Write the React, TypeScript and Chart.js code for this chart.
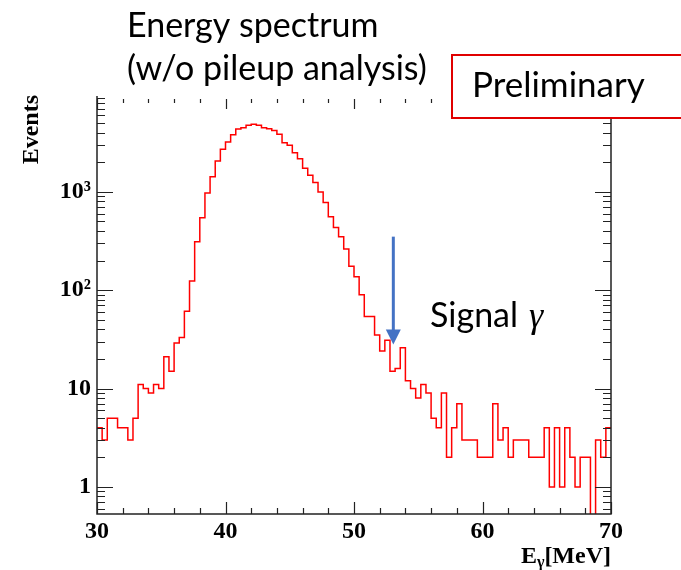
import React, { useEffect, useRef } from 'react';
import { Chart, registerables } from 'chart.js';

Chart.register(...registerables);

// ---- data ----
const X_MIN = 30;
const X_MAX = 70;
const BIN_WIDTH = 0.4;
const COUNTS = [
  4, 3, 5, 5, 4, 4, 3, 5, 11, 10,
  9, 11, 10, 21, 15, 29, 33, 61, 124, 311,
  544, 974, 1426, 2056, 2700, 3204, 3800, 4338, 4470, 4750,
  4875, 4750, 4470, 4370, 4208, 3836, 3150, 2965, 2495, 2170,
  1733, 1473, 1240, 997, 778, 557, 434, 349, 262, 175,
  137, 90, 54, 54, 35, 24, 31, 15, 16, 26,
  12, 10, 8, 11, 9, 5, 4, 9, 2, 4,
  7, 3, 3, 3, 2, 2, 2, 7, 3, 4,
  2, 3, 3, 3, 2, 2, 2, 4, 1, 4,
  1, 4, 2, 1, 2, 2, 0, 3, 2, 4,
];
const X_TICKS = [30, 40, 50, 60, 70];
const X_MINOR_STEP = 2;
const Y_MIN = 0.53;
const Y_MAX = 9200;
const Y_TICKS = [1, 10, 100, 1000];
const Y_TICK_LABELS = ['1', '10', '10²', '10³'];
const ZERO_FLOOR = 0.1; // empty bins drawn below the axis (clipped)
const ARROW_X = 53.06;
const ARROW_TOP = 350;
const ARROW_TIP = 28;
const TITLE_LINES = ['Energy spectrum', '(w/o pileup analysis)'];
const SIGNAL_LABEL = 'Signal';
const SIGNAL_GREEK = 'γ';
const BADGE = 'Preliminary';
const Y_TITLE = 'Events';
const X_TITLE_MAIN = 'E';
const X_TITLE_SUB = 'γ';
const X_TITLE_UNIT = '[MeV]';

const SERIF = '"Liberation Serif", "Times New Roman", serif';
const SANS = 'Lato, "Open Sans", sans-serif';

const overlayPlugin = {
  id: 'rootOverlay',
  afterDraw(chart: any) {
    const ctx = chart.ctx as CanvasRenderingContext2D;
    const xs = chart.scales.x;
    const ys = chart.scales.y;
    const area = chart.chartArea;
    ctx.save();

    // frame
    ctx.strokeStyle = '#222';
    ctx.lineWidth = 1.5;
    ctx.beginPath();
    ctx.moveTo(area.left, area.top - 1);
    ctx.lineTo(area.left, area.bottom);
    ctx.lineTo(area.right, area.bottom);
    ctx.lineTo(area.right, area.top);
    ctx.stroke();

    // x ticks (inward, bottom and top)
    ctx.lineWidth = 1.2;
    ctx.beginPath();
    for (let v = X_MIN; v <= X_MAX + 1e-9; v += X_MINOR_STEP) {
      const px = Math.round(xs.getPixelForValue(v)) + 0.5;
      const major = X_TICKS.includes(Math.round(v));
      const lb = major ? 12 : 6;
      const lt = major ? 10 : 4;
      ctx.moveTo(px, area.bottom);
      ctx.lineTo(px, area.bottom - lb);
      ctx.moveTo(px, area.top + 2);
      ctx.lineTo(px, area.top + 2 + lt);
    }
    ctx.stroke();

    // y ticks (inward, left and right)
    ctx.beginPath();
    for (let e = -1; e <= 4; e++) {
      for (let m = 1; m <= 9; m++) {
        const v = m * Math.pow(10, e);
        if (v < Y_MIN || v > Y_MAX) continue;
        const py = Math.round(ys.getPixelForValue(v)) + 0.5;
        const len = m === 1 ? 16 : 8;
        ctx.moveTo(area.left, py);
        ctx.lineTo(area.left + len, py);
        ctx.moveTo(area.right, py);
        ctx.lineTo(area.right - len, py);
      }
    }
    ctx.stroke();

    // arrow
    const ax = xs.getPixelForValue(ARROW_X);
    const aTop = ys.getPixelForValue(ARROW_TOP);
    const aTip = ys.getPixelForValue(ARROW_TIP);
    const head = 15;
    ctx.strokeStyle = '#4472C4';
    ctx.fillStyle = '#4472C4';
    ctx.lineWidth = 3;
    ctx.beginPath();
    ctx.moveTo(ax, aTop);
    ctx.lineTo(ax, aTip - head + 1);
    ctx.stroke();
    ctx.beginPath();
    ctx.moveTo(ax - 7.5, aTip - head);
    ctx.lineTo(ax + 7.5, aTip - head);
    ctx.lineTo(ax, aTip);
    ctx.closePath();
    ctx.fill();

    // annotation texts
    ctx.fillStyle = '#000';
    ctx.textAlign = 'left';
    ctx.textBaseline = 'alphabetic';
    ctx.font = `34px ${SANS}`;
    ctx.fillText(TITLE_LINES[0], 127, 37);
    ctx.fillText(TITLE_LINES[1], 127, 80);
    ctx.fillText(SIGNAL_LABEL, 430, 327);
    ctx.font = `italic 36px ${SERIF}`;
    ctx.fillText(SIGNAL_GREEK, 529, 327);

    // axis titles
    ctx.font = `bold 24px ${SERIF}`;
    ctx.save();
    ctx.translate(38, 95);
    ctx.rotate(-Math.PI / 2);
    ctx.textAlign = 'right';
    ctx.fillText(Y_TITLE, 0, 0);
    ctx.restore();

    const base = 563;
    ctx.font = `bold 24px ${SERIF}`;
    const wUnit = ctx.measureText(X_TITLE_UNIT).width;
    const wE = ctx.measureText(X_TITLE_MAIN).width;
    ctx.font = `bold 16px ${SERIF}`;
    const wSub = ctx.measureText(X_TITLE_SUB).width;
    const x0 = area.right - wUnit - wSub - wE;
    ctx.font = `bold 24px ${SERIF}`;
    ctx.fillText(X_TITLE_MAIN, x0, base);
    ctx.font = `bold 16px ${SERIF}`;
    ctx.fillText(X_TITLE_SUB, x0 + wE, base + 4);
    ctx.font = `bold 24px ${SERIF}`;
    ctx.fillText(X_TITLE_UNIT, x0 + wE + wSub, base);

    // Preliminary badge
    ctx.fillStyle = '#fff';
    ctx.fillRect(452, 55, 240, 63);
    ctx.strokeStyle = '#E00000';
    ctx.lineWidth = 2;
    ctx.strokeRect(452, 55, 240, 63);
    ctx.fillStyle = '#000';
    ctx.font = `35px ${SANS}`;
    ctx.fillText(BADGE, 472, 97);

    ctx.restore();
  },
};

export default function App() {
  const ref = useRef<HTMLCanvasElement | null>(null);

  useEffect(() => {
    document.body.style.margin = '0';
    const canvas = ref.current;
    if (!canvas) return;

    const points = COUNTS.map((c, i) => ({
      x: X_MIN + i * BIN_WIDTH,
      y: c > 0 ? c : ZERO_FLOOR,
    }));
    const last = COUNTS[COUNTS.length - 1];
    points.push({ x: X_MAX, y: last > 0 ? last : ZERO_FLOOR });

    const chart = new Chart(canvas, {
      type: 'line',
      data: {
        datasets: [
          {
            data: points,
            borderColor: '#FF0000',
            borderWidth: 1.5,
            pointRadius: 0,
            stepped: true,
            fill: false,
          },
        ],
      },
      options: {
        animation: false,
        responsive: false,
        devicePixelRatio: 1,
        parsing: false,
        layout: { padding: { left: 0, top: 97, right: 70, bottom: 0 } },
        plugins: {
          legend: { display: false },
          tooltip: { enabled: false },
          title: { display: false },
        },
        scales: {
          x: {
            type: 'linear',
            min: X_MIN,
            max: X_MAX,
            grid: { display: false, drawTicks: false },
            border: { display: false },
            afterBuildTicks: (scale: any) => {
              scale.ticks = X_TICKS.map((v) => ({ value: v }));
            },
            afterFit: (scale: any) => {
              scale.height = 56;
            },
            ticks: {
              autoSkip: false,
              maxRotation: 0,
              padding: 3,
              color: '#000',
              font: { family: SERIF, size: 24, weight: 'bold' },
              callback: (v: any) => String(v),
            },
          },
          y: {
            type: 'logarithmic',
            min: Y_MIN,
            max: Y_MAX,
            grid: { display: false, drawTicks: false },
            border: { display: false },
            afterBuildTicks: (scale: any) => {
              scale.ticks = Y_TICKS.map((v) => ({ value: v }));
            },
            afterFit: (scale: any) => {
              scale.width = 97;
            },
            ticks: {
              autoSkip: false,
              padding: 6,
              color: '#000',
              font: { family: SERIF, size: 24, weight: 'bold' },
              callback: (v: any) => {
                const i = Y_TICKS.indexOf(Number(v));
                return i >= 0 ? Y_TICK_LABELS[i] : '';
              },
            },
          },
        },
      },
      plugins: [overlayPlugin],
    } as any);

    return () => chart.destroy();
  }, []);

  return (
    <div style={{ width: 681, height: 570 }}>
      <canvas ref={ref} width={681} height={570} style={{ display: 'block', width: 681, height: 570 }} />
    </div>
  );
}
